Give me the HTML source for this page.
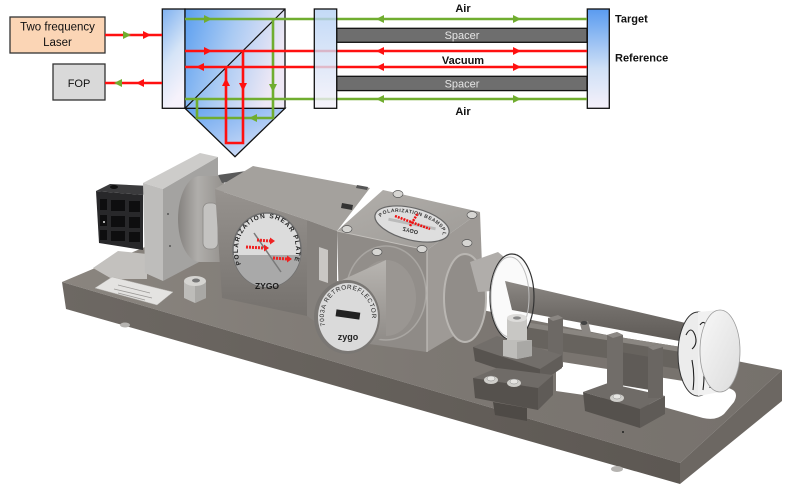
<!DOCTYPE html>
<html><head><meta charset="utf-8">
<style>
html,body{margin:0;padding:0;background:#fff;}
svg{display:block;}
text{font-family:"Liberation Sans",Arial,sans-serif;}
</style></head><body>
<svg width="800" height="496" viewBox="0 0 800 496" xmlns="http://www.w3.org/2000/svg">
<defs>
<linearGradient id="gPbs" x1="0" y1="0" x2="1" y2="0.3"><stop offset="0" stop-color="#5a9ef0"/><stop offset="0.5" stop-color="#a9caf3"/><stop offset="1" stop-color="#eee8f5"/></linearGradient>
<linearGradient id="gPrism" x1="0" y1="0" x2="1" y2="1"><stop offset="0" stop-color="#63a3f0"/><stop offset="1" stop-color="#eaeaf8"/></linearGradient>
<linearGradient id="gLwin" x1="0" y1="0" x2="0.3" y2="1"><stop offset="0" stop-color="#7fb1f0"/><stop offset="0.55" stop-color="#d5e4f7"/><stop offset="1" stop-color="#f6f2fb"/></linearGradient>
<linearGradient id="gMwin" x1="0" y1="0" x2="0" y2="1"><stop offset="0" stop-color="#b4d1f5"/><stop offset="1" stop-color="#f4f1f9"/></linearGradient>
<linearGradient id="gTwin" x1="0" y1="0" x2="0" y2="1"><stop offset="0" stop-color="#5a9bf0"/><stop offset="0.6" stop-color="#cfe0f6"/><stop offset="1" stop-color="#f5f1fa"/></linearGradient>
<linearGradient id="gPlateTop" gradientUnits="userSpaceOnUse" x1="62" y1="0" x2="782" y2="0"><stop offset="0" stop-color="#8a857f"/><stop offset="0.5" stop-color="#7d7873"/><stop offset="1" stop-color="#76716c"/></linearGradient>
<linearGradient id="gPlateFront" gradientUnits="userSpaceOnUse" x1="62" y1="0" x2="782" y2="0"><stop offset="0" stop-color="#6d6863"/><stop offset="1" stop-color="#5a5550"/></linearGradient>
<linearGradient id="gBarrel" gradientUnits="userSpaceOnUse" x1="178" y1="0" x2="222" y2="0"><stop offset="0" stop-color="#85827f"/><stop offset="0.45" stop-color="#b0aeab"/><stop offset="1" stop-color="#96938f"/></linearGradient>
<linearGradient id="gShear" x1="0" y1="0" x2="0" y2="1"><stop offset="0" stop-color="#97938f"/><stop offset="1" stop-color="#75716d"/></linearGradient>
<linearGradient id="gBSTop" x1="0" y1="0" x2="1" y2="1"><stop offset="0" stop-color="#b2afab"/><stop offset="1" stop-color="#9d9a96"/></linearGradient>
<linearGradient id="gRetro" x1="0" y1="0" x2="0" y2="1"><stop offset="0" stop-color="#b8b5b1"/><stop offset="1" stop-color="#8a8682"/></linearGradient>
<linearGradient id="gTube" x1="0" y1="0" x2="0" y2="1"><stop offset="0" stop-color="#8c8884"/><stop offset="0.5" stop-color="#716d69"/><stop offset="1" stop-color="#5d5955"/></linearGradient>
<linearGradient id="gMirror" x1="0" y1="0" x2="1" y2="1"><stop offset="0" stop-color="#f8f8f8"/><stop offset="1" stop-color="#dcdcdc"/></linearGradient>
<path id="shearArc" d="M241.9,266 A29,32 0 1 1 292.1,266"/>
<path id="retroArc" d="M325.4,326.6 A24,28 0 1 1 370.6,326.6"/>
<path id="bsArc" d="M380,226 A32,12 0 0 1 444,226"/>
</defs>

<!-- ===== DEVICE ===== -->
<polygon points="62,282 152,244 782,370 680,463" fill="url(#gPlateTop)"/>
<polygon points="62,282 680,463 680,484 66,309" fill="url(#gPlateFront)"/>
<polygon points="680,463 782,370 782,401 680,484" fill="#6c6762"/>
<ellipse cx="125" cy="325" rx="5" ry="2.5" fill="#b5b3b0"/>
<ellipse cx="617" cy="469" rx="6" ry="3" fill="#b5b3b0"/>
<path d="M556,361 L728,388 Q740,391 734,402 L724,414 Q716,421 703,418 L660,406 L612,399 L556,391 Z" fill="#fff"/>

<polygon points="93,268 118,251 147,254 147,279 112,279" fill="#c3c1be"/>
<polygon points="95,288 112,277 173,292 157,305" fill="#e4e3e1" stroke="#b8b6b3" stroke-width="0.5"/>
<line x1="118" y1="285" x2="150" y2="293" stroke="#9a9896" stroke-width="0.8"/>
<line x1="114" y1="289" x2="152" y2="298" stroke="#9a9896" stroke-width="0.8"/>
<line x1="118" y1="293" x2="145" y2="300" stroke="#9a9896" stroke-width="0.8"/>

<polygon points="96,191 110,184 150,186 143,195" fill="#3b3b3d"/>
<polygon points="96,191 143,195 143,250 99,243" fill="#28282a"/>
<ellipse cx="114" cy="187" rx="4" ry="2" fill="#111"/>
<g fill="#0e0e0f">
<rect x="100" y="199" width="7" height="11"/><rect x="111" y="200" width="14" height="11"/><rect x="129" y="201" width="11" height="11"/>
<rect x="100" y="215" width="7" height="11"/><rect x="111" y="216" width="14" height="11"/><rect x="129" y="217" width="11" height="11"/>
<rect x="100" y="230" width="7" height="10"/><rect x="111" y="231" width="14" height="10"/><rect x="129" y="232" width="11" height="10"/>
</g>
<circle cx="104" cy="222" r="1" fill="#ddd"/>

<polygon points="143,183 200,153 218,157 163,189" fill="#cdccca"/>
<polygon points="143,183 163,189 163,281 145,273" fill="#bebdbb"/>
<polygon points="163,189 218,157 218,252 163,281" fill="#a4a3a1"/>
<circle cx="168" cy="214" r="1" fill="#555"/>
<circle cx="170" cy="246" r="1" fill="#555"/>

<path d="M200,176 L224,176 L224,262 L200,262 A22,43 0 0 1 200,176 Z" fill="url(#gBarrel)"/>
<rect x="203" y="203" width="15" height="46" rx="6" fill="#c4c3c1" stroke="#8a8885" stroke-width="0.8"/>
<polygon points="218,175 246,171 251,178 222,183" fill="#5a5a5a"/>

<polygon points="215,189 253,166 370,188 337,231 307,220" fill="#a4a19d"/>
<polygon points="215,189 307,220 307,316 222,298" fill="url(#gShear)"/>
<polygon points="307,220 337,231 337,337 307,316" fill="#85817d"/>
<polygon points="319,247 328,250 328,283 319,280" fill="#c9c7c4"/>
<polygon points="342,203 353,205 352,210 341,208" fill="#333"/>
<polygon points="357,185 368,187 367,190 356,188" fill="#555"/>
<ellipse cx="267" cy="250" rx="34" ry="37" fill="#dcdcdc" stroke="#6f6f6f" stroke-width="1.5"/>
<path d="M233.3,255 A34,37 0 0 0 300.7,255 Z" fill="#a9a9a9"/>
<line x1="254" y1="233" x2="281" y2="272" stroke="#7a7a7a" stroke-width="1.5"/>
<g stroke="#e22" stroke-width="3" stroke-dasharray="2,1">
<line x1="257" y1="240" x2="270" y2="241"/><line x1="246" y1="247" x2="264" y2="248"/><line x1="273" y1="258" x2="287" y2="259"/>
</g>
<g fill="#e22"><polygon points="270,237.5 275,241 270,244.5"/><polygon points="264,244.5 269,248 264,251.5"/><polygon points="287,255.5 292,259 287,262.5"/></g>
<text font-size="6.5" font-weight="bold" fill="#222" letter-spacing="1.1"><textPath href="#shearArc" startOffset="2">POLARIZATION  SHEAR PLATE</textPath></text>
<text x="267" y="289" font-size="8.5" font-weight="bold" fill="#1a1a1a" text-anchor="middle">ZYGO</text>

<polygon points="184,281 206,281 206,298 195,303 184,298" fill="#bdbcb9"/>
<polygon points="195,284 206,281 206,298 195,303" fill="#a9a8a5"/>
<ellipse cx="195" cy="281" rx="11" ry="5" fill="#d5d4d1"/>
<ellipse cx="196" cy="280.5" rx="4" ry="2" fill="#777"/>

<polygon points="427,250 480,212 484,318 427,352" fill="#9e9a96"/>
<polygon points="337,231 427,250 427,352 340,340" fill="#8f8b87"/>
<polygon points="337,231 383,190 480,212 427,250" fill="url(#gBSTop)"/>
<line x1="427" y1="250" x2="427" y2="352" stroke="#c8c5c1" stroke-width="1"/>
<line x1="337" y1="231" x2="427" y2="250" stroke="#c3c0bc" stroke-width="1"/>
<ellipse cx="465" cy="298" rx="21" ry="44" fill="#918d89" stroke="#b9b6b2" stroke-width="2"/>
<ellipse cx="386" cy="293" rx="40" ry="47" fill="#928e8a" stroke="#a9a6a2" stroke-width="1.5"/>
<g transform="rotate(14 412 224)">
<ellipse cx="412" cy="224" rx="38" ry="16" fill="#dedede" stroke="#666" stroke-width="1.2"/>
<line x1="388" y1="225" x2="436" y2="223" stroke="#bbb" stroke-width="3"/>
<text font-size="5" font-weight="bold" fill="#333" letter-spacing="0.5"><textPath href="#bsArc" startOffset="1">POLARIZATION BEAMSPLITTER</textPath></text>
<text x="412" y="-229" font-size="5.5" font-weight="bold" fill="#222" text-anchor="middle" transform="scale(1,-1)">ZYGO</text>
</g>
<g stroke="#e11" stroke-width="2.5" stroke-dasharray="2,1"><line x1="395" y1="216" x2="430" y2="229"/><line x1="410" y1="226" x2="418" y2="213"/></g>
<g fill="#d7d6d3" stroke="#555" stroke-width="0.7">
<ellipse cx="347" cy="229" rx="5" ry="3.5"/>
<ellipse cx="398" cy="194" rx="5" ry="3.5"/>
<ellipse cx="472" cy="215" rx="5" ry="3.5"/>
<ellipse cx="422" cy="249" rx="5" ry="3.5"/>
<ellipse cx="377" cy="252" rx="5" ry="3.5"/>
<ellipse cx="467" cy="243" rx="5" ry="3.5"/>
</g>

<!-- retroreflector cylinder -->
<ellipse cx="386" cy="298" rx="30" ry="38" fill="#9a9692"/>
<polygon points="340,281 386,260 386,336 352,353" fill="url(#gRetro)"/>
<ellipse cx="347" cy="317" rx="33" ry="37" fill="#7a7774"/>
<ellipse cx="348" cy="317" rx="30" ry="34" fill="#dadada"/>
<text font-size="6.3" fill="#222" letter-spacing="0.6"><textPath href="#retroArc" startOffset="1">7003A RETROREFLECTOR</textPath></text>
<rect x="336" y="311" width="24" height="7" fill="#222" transform="rotate(8 348 314)"/>
<text x="348" y="340" font-size="9" font-weight="bold" fill="#222" text-anchor="middle">zygo</text>

<polygon points="525,322 700,350 700,372 525,346" fill="#67635e"/>
<polygon points="525,322 700,350 700,355 525,327" fill="#8a8681"/>
<polygon points="470,262 498,252 510,262 505,290 478,292" fill="#b0adaa"/>
<ellipse cx="512" cy="297" rx="22" ry="43" fill="#fafafa"/>
<polygon points="505,281 690,324 690,343 512,310" fill="url(#gTube)"/>
<ellipse cx="512" cy="297" rx="22" ry="43" fill="none" stroke="#333" stroke-width="1.2"/>
<ellipse cx="510" cy="297" rx="19" ry="40" fill="none" stroke="#bdbdbd" stroke-width="1"/>
<polygon points="580,324 588,321 591,333 583,335" fill="#8a8682"/>
<ellipse cx="584" cy="323" rx="3.5" ry="2" fill="#444"/>

<polygon points="548,318 558,315 563,318 563,367 548,365" fill="#6d6965"/>
<polygon points="548,318 558,315 563,318 553,321" fill="#8a8682"/>
<polygon points="473,347 497,336 562,355 540,369" fill="#726e6a"/>
<polygon points="473,347 540,369 540,383 475,361" fill="#57534f"/>
<polygon points="540,369 562,355 562,368 540,383" fill="#615d59"/>
<polygon points="507,318 527,318 527,340 507,340" fill="#c8c7c4"/>
<ellipse cx="517" cy="318" rx="10" ry="4" fill="#dddcda"/>
<ellipse cx="517" cy="318" rx="4" ry="1.6" fill="#888"/>
<polygon points="503,340 532,340 532,356 517,359 503,356" fill="#bebdba"/>
<polygon points="517,342 532,340 532,356 517,359" fill="#a9a8a5"/>
<polygon points="473,378 497,368 553,375 538,388" fill="#6f6b67"/>
<polygon points="473,378 538,388 538,410 475,398" fill="#55514d"/>
<polygon points="538,388 553,375 553,395 538,410" fill="#5f5b57"/>
<polygon points="493,402 527,408 527,421 495,415" fill="#4e4a46"/>
<ellipse cx="491" cy="380" rx="7" ry="4" fill="#cfceca"/><ellipse cx="491" cy="378.5" rx="4" ry="2.5" fill="#e6e5e2" stroke="#888" stroke-width="0.5"/>
<ellipse cx="514" cy="383" rx="7" ry="4" fill="#cfceca"/><ellipse cx="514" cy="381.5" rx="4" ry="2.5" fill="#e6e5e2" stroke="#888" stroke-width="0.5"/>

<polygon points="620,352 650,357 650,390 620,385" fill="#5f5b57"/>
<polygon points="583,392 608,383 665,396 640,409" fill="#6f6b67"/>
<polygon points="583,392 640,409 640,428 585,411" fill="#55514d"/>
<polygon points="640,409 665,396 665,414 640,428" fill="#5f5b57"/>
<polygon points="607,335 617,332 623,335 623,390 607,390" fill="#716d69"/>
<polygon points="607,335 617,332 623,335 613,338" fill="#8d8985"/>
<polygon points="648,347 658,344 663,347 663,398 648,398" fill="#6a6662"/>
<polygon points="648,347 658,344 663,347 653,350" fill="#8a8682"/>
<ellipse cx="617" cy="398" rx="7" ry="4" fill="#cfceca"/><ellipse cx="617" cy="396.5" rx="4" ry="2.5" fill="#e6e5e2" stroke="#888" stroke-width="0.5"/>
<circle cx="623" cy="432" r="1" fill="#222"/>

<ellipse cx="698" cy="354" rx="20" ry="42" fill="#ececec" stroke="#333" stroke-width="1"/>
<polygon points="698,312 720,310 720,392 698,396" fill="#f1f1f1"/>
<g fill="none" stroke="#222" stroke-width="1.1">
<path d="M686,335 q5,-10 9,0 q3,9 -3,14"/>
<path d="M700,325 q4,-6 7,2 q2,8 -4,12"/>
<path d="M692,360 q3,15 1,30"/>
<path d="M703,360 q2,15 0,30"/>
<path d="M711,340 q2,20 -1,48"/>
</g>
<ellipse cx="720" cy="351" rx="20" ry="41" fill="url(#gMirror)" stroke="#9a9a9a" stroke-width="0.8"/>

<!-- ===== DIAGRAM ===== -->
<rect x="10" y="17" width="95" height="36" fill="#fbd5b5" stroke="#333" stroke-width="1.3"/>
<text x="57.5" y="30.5" font-size="11.5" fill="#111" text-anchor="middle">Two frequency</text>
<text x="57.5" y="46" font-size="11.5" fill="#111" text-anchor="middle">Laser</text>
<rect x="53" y="64" width="52" height="36" fill="#d9d9d9" stroke="#333" stroke-width="1.3"/>
<text x="79" y="87" font-size="11" fill="#111" text-anchor="middle">FOP</text>

<rect x="162.3" y="9" width="22.7" height="99.3" fill="url(#gLwin)" stroke="#111" stroke-width="1.3"/>
<polygon points="185,108.3 285,108.3 235,156.7" fill="url(#gPrism)" stroke="#111" stroke-width="1.3"/>
<rect x="185" y="9" width="100" height="99.3" fill="url(#gPbs)" stroke="#111" stroke-width="1.3"/>
<line x1="185" y1="108.3" x2="285" y2="9" stroke="#111" stroke-width="1.2"/>
<rect x="587.3" y="9" width="22" height="99.3" fill="url(#gTwin)" stroke="#111" stroke-width="1.3"/>

<rect x="336.7" y="28.3" width="250.3" height="14" fill="#6e6e6e" stroke="#111" stroke-width="1.3"/>
<text x="462" y="39" font-size="11" fill="#e6e6e6" text-anchor="middle">Spacer</text>
<rect x="336.7" y="76.3" width="250.3" height="14.3" fill="#6e6e6e" stroke="#111" stroke-width="1.3"/>
<text x="462" y="87.5" font-size="11" fill="#e6e6e6" text-anchor="middle">Spacer</text>

<g fill="none" stroke-width="2.6" stroke-linecap="butt">
<path d="M105,35 H162" stroke="#ff1010"/>
<path d="M105,83 H162" stroke="#ff1010"/>
<path d="M185,19 H587 M273,19 V118 H197 V99 M185,99 H587" stroke="#70ad2f"/>
<path d="M185,51 H587 M243,51 V143 H226 V67 M185,67 H587" stroke="#ff1010"/>
</g>
<g fill="#70ad2f">
<polygon points="123,31 131,35 123,39"/>
<polygon points="122,79 114,83 122,87"/>
<polygon points="204,15 212,19 204,23"/>
<polygon points="269,84 277,84 273,92"/>
<polygon points="257,114 249,118 257,122"/>
<polygon points="384,15 376,19 384,23"/><polygon points="513,15 521,19 513,23"/>
<polygon points="384,95 376,99 384,103"/><polygon points="513,95 521,99 513,103"/>
</g>
<g fill="#ff1010">
<polygon points="143,31 151,35 143,39"/>
<polygon points="144,79 136,83 144,87"/>
<polygon points="204,47 212,51 204,55"/>
<polygon points="239,83 247,83 243,91"/>
<polygon points="222,86 230,86 226,78"/>
<polygon points="204,63 196,67 204,71"/>
<polygon points="384,47 376,51 384,55"/><polygon points="513,47 521,51 513,55"/>
<polygon points="384,63 376,67 384,71"/><polygon points="513,63 521,67 513,71"/>
</g>
<rect x="314.3" y="9" width="22.4" height="99.3" fill="url(#gMwin)" fill-opacity="0.8" stroke="#111" stroke-width="1.3"/>

<g font-size="11" font-weight="bold" fill="#111">
<text x="463" y="12" text-anchor="middle">Air</text>
<text x="463" y="64" text-anchor="middle">Vacuum</text>
<text x="463" y="115" text-anchor="middle">Air</text>
<text x="615" y="22.5">Target</text>
<text x="615" y="61.5">Reference</text>
</g>
</svg>
</body></html>
